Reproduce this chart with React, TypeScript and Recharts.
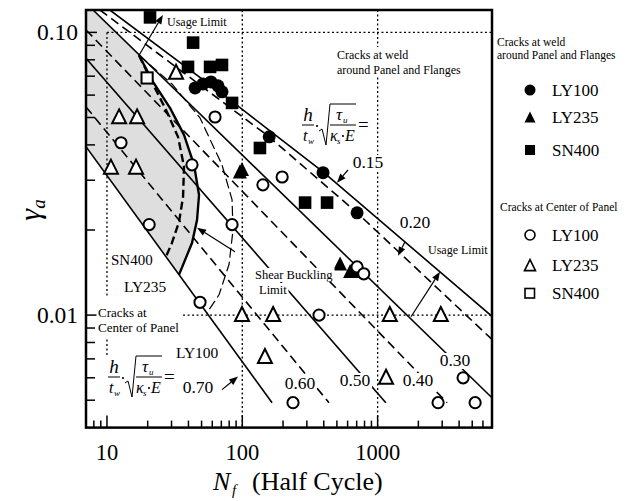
import React from "react";
import { ComposedChart, Scatter, XAxis, YAxis } from "recharts";

type P = [number, number];

// axis ticks
const xTicks = [8, 9, 10, 20, 30, 40, 50, 60, 70, 80, 90, 100, 200, 300, 400, 500, 600, 700, 800, 900, 1000, 2000, 3000, 4000, 5000, 6000];
const xMajor = [10, 100, 1000];
const yTicks = [0.005, 0.006, 0.007, 0.008, 0.009, 0.01, 0.02, 0.03, 0.04, 0.05, 0.06, 0.07, 0.08, 0.09, 0.1];
const yMajor = [0.01, 0.1];

// cracks at weld around panel and flanges (filled)
const weldLY100: P[] = [[44.8, 0.0636], [51.2, 0.0657], [58.7, 0.0668], [66.1, 0.0647], [70.8, 0.0616], [158, 0.0427], [395, 0.0319], [705, 0.023]];
const weldLY235: P[] = [[99.5, 0.0326], [96, 0.0319], [528, 0.0151], [626, 0.0142], [681, 0.0142]];
const weldSN400: P[] = [[20.8, 0.113], [43.3, 0.092], [39.7, 0.0755], [57.8, 0.0755], [70.8, 0.0767], [84, 0.0563], [135, 0.039], [291, 0.025], [423, 0.025]];

// cracks at center of panel (open)
const centerLY100: P[] = [[12.7, 0.0407], [62.9, 0.0502], [42.5, 0.034], [20.5, 0.0209], [48.7, 0.0111], [142, 0.0289], [197, 0.0308], [84, 0.0209], [369, 0.01], [705, 0.0148], [790, 0.014], [237, 0.0049], [2797, 0.0049], [4281, 0.006], [5252, 0.0049]];
const centerLY235: P[] = [[32.4, 0.0719], [12.3, 0.05], [16.7, 0.05], [10.7, 0.0332], [16.4, 0.0332], [99.5, 0.01], [169, 0.01], [147, 0.0071], [1230, 0.01], [2930, 0.01], [1154, 0.006]];
const centerSN400: P[] = [[19.8, 0.069]];

// h/tw*sqrt(tau/(k E)) = const lines, each a short polyline
const fanValues = ["0.15", "0.20", "0.30", "0.40", "0.50", "0.60", "0.70"];
const fan015: P[] = [[10.5, 0.12], [81.1, 0.0577], [395, 0.0321], [7000, 0.0099]];
const fan020: P[] = [[8.88, 0.12], [158, 0.0427], [705, 0.023], [7000, 0.0082]];
const fan030: P[] = [[7.89, 0.12], [7000, 0.0051]];
const fan040: P[] = [[7, 0.102], [3260, 0.0049]];
const fan050: P[] = [[7, 0.081], [1150, 0.0049]];
const fan060: P[] = [[7, 0.0545], [437, 0.0049]];
const fan070: P[] = [[7, 0.0394], [166, 0.0049]];
const fanLines = [fan015, fan020, fan030, fan040, fan050, fan060, fan070];

// shear buckling limit curves
const buckleSN400: P[] = [[17.25, 0.083], [21.1, 0.0679], [27.3, 0.0532], [33.5, 0.0427], [37.1, 0.0335], [36.5, 0.0262], [34.1, 0.0214], [30.2, 0.018], [27.3, 0.0161]];
const buckleLY235: P[] = [[17.25, 0.083], [21.9, 0.0668], [29.2, 0.0541], [37.1, 0.0434], [44, 0.034], [47.9, 0.0266], [46.3, 0.0217], [42.5, 0.018], [34.1, 0.0139]];
const buckleLY100: P[] = [[17.25, 0.083], [30.2, 0.0657], [48.7, 0.0498], [70.8, 0.034], [84, 0.0256], [85.4, 0.02], [79.8, 0.0151], [67.3, 0.0118], [54.9, 0.0102]];

// dotted boundaries
const dottedLines: P[][] = [
  [[10, 0.1], [10, 0.0115]],
  [[10, 0.0082], [10, 0.0071]],
  [[100, 0.12], [100, 0.004]],
  [[1000, 0.12], [1000, 0.004]],
  [[10, 0.1], [7000, 0.1]],
  [[36.5, 0.01], [7000, 0.01]],
];

// annotation arrows [from, to]
const arrows: P[][] = [
  [[17.25, 0.083], [25.9, 0.1152]],
  [[1764, 0.00987], [2890, 0.01423]],
  [[604, 0.0326], [501, 0.0294]],
  [[1593, 0.01817], [1414, 0.01621]],
  [[70.8, 0.00545], [93, 0.00606]],
  [[88.3, 0.01675], [46.3, 0.02036]],
];

const FONT = "Liberation Serif, Times New Roman, serif";
const PLOT = { left: 86, top: 10, right: 492, bottom: 427.6 };

const rows = (pts: P[]) => pts.map(([n, g]) => ({ n, g }));
const pathOf = (pts: { x: number; y: number }[]) =>
  pts.map((p, i) => `${i ? "L" : "M"}${p.x},${p.y}`).join(" ");

const lineShape = (style: Record<string, any>) => (props: any) =>
  <path d={pathOf(props.points)} fill="none" stroke="#000" strokeLinejoin="round" {...style} />;
const areaShape = (props: any) => <path d={pathOf(props.points) + " Z"} fill="#dedede" stroke="none" />;
const arrowShape = (props: any) => {
  const [a, b] = props.points;
  const dx = b.x - a.x;
  const dy = b.y - a.y;
  const len = Math.hypot(dx, dy);
  const ux = dx / len;
  const uy = dy / len;
  const bx = b.x - ux * 9;
  const by = b.y - uy * 9;
  return (
    <g>
      <line x1={a.x} y1={a.y} x2={bx} y2={by} stroke="#000" strokeWidth={1.2} />
      <polygon points={`${b.x},${b.y} ${bx - uy * 3.5},${by + ux * 3.5} ${bx + uy * 3.5},${by - ux * 3.5}`} fill="#000" />
    </g>
  );
};
const noDot = () => <g />;

const tri = (cx: number, cy: number, s: number) =>
  `${cx},${cy - s * 0.58} ${cx - s / 2},${cy + s * 0.42} ${cx + s / 2},${cy + s * 0.42}`;

const FilledCircle = (p: any) => <circle cx={p.cx} cy={p.cy} r={6.5} fill="#000" />;
const FilledSquare = (p: any) => <rect x={p.cx - 6.3} y={p.cy - 6.3} width={12.6} height={12.6} fill="#000" />;
const FilledTri = (p: any) => <polygon points={tri(p.cx, p.cy, 14)} fill="#000" />;
const OpenCircle = (p: any) => <circle cx={p.cx} cy={p.cy} r={5.6} fill="#fff" stroke="#000" strokeWidth={2} />;
const OpenSquare = (p: any) => <rect x={p.cx - 5.6} y={p.cy - 5.6} width={11.2} height={11.2} fill="#fff" stroke="#000" strokeWidth={2} />;
const OpenTri = (p: any) => <polygon points={tri(p.cx, p.cy, 14)} fill="#fff" stroke="#000" strokeWidth={2} strokeLinejoin="miter" />;

const XTick = (props: any) => {
  const x = props.x;
  const v = props.payload.value;
  const major = xMajor.includes(v);
  return (
    <g>
      <line x1={x} x2={x} y1={PLOT.bottom} y2={PLOT.bottom - (major ? 12 : 7)} stroke="#000" strokeWidth={1.5} />
      {major && (
        <text x={x} y={PLOT.bottom + 32} textAnchor="middle" fontFamily={FONT} fontSize={22.5} fill="#000">
          {v}
        </text>
      )}
    </g>
  );
};

const YTick = (props: any) => {
  const y = props.y;
  const v = props.payload.value;
  const major = yMajor.includes(v);
  return (
    <g>
      <line x1={PLOT.left} x2={PLOT.left + (major ? 11 : 9)} y1={y} y2={y} stroke="#000" strokeWidth={1.5} />
      {major && (
        <text x={PLOT.left - 8} y={y + 8} textAnchor="end" fontFamily={FONT} fontSize={23.5} fill="#000">
          {v.toFixed(2)}
        </text>
      )}
    </g>
  );
};

function Formula({ x, y }: { x: number; y: number }) {
  return (
    <g transform={`translate(${x},${y})`} fontFamily={FONT} fontStyle="italic" fill="#000">
      <line x1={0} x2={12} y1={0} y2={0} stroke="#000" strokeWidth={1} />
      <text x={6} y={-4} textAnchor="middle" fontSize={19}>h</text>
      <text x={1} y={16} fontSize={16}>t</text>
      <text x={6} y={19} fontSize={9}>w</text>
      <circle cx={15} cy={1} r={1.1} fill="#000" />
      <path d="M17,6 L20,4 L24,20 L28,-21 L54,-21" fill="none" stroke="#000" strokeWidth={1} />
      <line x1={28} x2={54} y1={0} y2={0} stroke="#000" strokeWidth={1} />
      <text x={34} y={-5} fontSize={17}>τ</text>
      <text x={41} y={-2} fontSize={9}>u</text>
      <text x={28} y={16} fontSize={16}>κ</text>
      <text x={35} y={19} fontSize={9}>s</text>
      <circle cx={41} cy={11} r={1.1} fill="#000" />
      <text x={43} y={16} fontSize={16}>E</text>
      <text x={56} y={6} fontSize={19} fontStyle="normal">=</text>
    </g>
  );
}

function BgText({ x, y, size, children, anchor = "start", pad = 1.5, w, h }: any) {
  const left = anchor === "middle" ? x - w / 2 : x;
  return (
    <g>
      <rect x={left - pad} y={y - h} width={w + pad * 2} height={h + 3} fill="#fff" />
      <text x={x} y={y} fontFamily={FONT} fontSize={size} textAnchor={anchor} fill="#000">
        {children}
      </text>
    </g>
  );
}

export default function App() {
  const grayRegion: P[] = [[7, 0.12], fan030[0], ...buckleLY235, fan070[0]];
  const legendWeld = [
    { name: "LY100", mark: <circle cx={530} cy={90} r={5.5} fill="#000" />, y: 96 },
    { name: "LY235", mark: <polygon points={tri(530, 118, 11)} fill="#000" />, y: 123 },
    { name: "SN400", mark: <rect x={525} y={145} width={10} height={10} fill="#000" />, y: 156 },
  ];
  const legendCenter = [
    { name: "LY100", mark: <circle cx={530} cy={235} r={5} fill="#fff" stroke="#000" strokeWidth={1.6} />, y: 241 },
    { name: "LY235", mark: <polygon points={tri(530, 266, 11)} fill="#fff" stroke="#000" strokeWidth={1.6} />, y: 271 },
    { name: "SN400", mark: <rect x={525} y={288.5} width={9.5} height={9.5} fill="#fff" stroke="#000" strokeWidth={1.6} />, y: 299 },
  ];
  const valueLabels: { t: string; x: number; y: number }[] = [
    { t: fanValues[0], x: 368, y: 168 },
    { t: fanValues[1], x: 415, y: 228 },
    { t: fanValues[2], x: 455, y: 366 },
    { t: fanValues[3], x: 418, y: 386 },
    { t: fanValues[4], x: 355, y: 386 },
    { t: fanValues[5], x: 300, y: 389 },
    { t: fanValues[6], x: 198, y: 393 },
  ];

  return (
    <div style={{ position: "absolute", left: 0, top: 0, width: 639, height: 501, background: "#fff" }}>
      <ComposedChart width={639} height={501} margin={{ top: 10, right: 147, bottom: 0, left: 0 }}>
        <XAxis
          type="number"
          dataKey="n"
          scale="log"
          domain={[7, 7000]}
          allowDataOverflow
          ticks={xTicks}
          interval={0}
          tick={XTick}
          tickLine={false}
          axisLine={false}
          height={73.4}
        />
        <YAxis
          type="number"
          dataKey="g"
          scale="log"
          domain={[0.004, 0.12]}
          allowDataOverflow
          ticks={yTicks}
          interval={0}
          tick={YTick}
          tickLine={false}
          axisLine={false}
          width={86}
        />
        <Scatter data={rows(grayRegion)} line={areaShape} lineType="joint" shape={noDot} isAnimationActive={false} />
        {dottedLines.map((seg, i) => (
          <Scatter key={`d${i}`} data={rows(seg)} line={lineShape({ strokeWidth: 1.3, strokeDasharray: "2 2.5" })} lineType="joint" shape={noDot} isAnimationActive={false} />
        ))}
        {fanLines.map((pts, i) => (
          <Scatter
            key={`f${fanValues[i]}`}
            data={rows(pts)}
            line={lineShape(i % 2 ? { strokeWidth: 1.6, strokeDasharray: "9 5" } : { strokeWidth: 1.6 })}
            lineType="joint"
            shape={noDot}
            isAnimationActive={false}
          />
        ))}
        <Scatter data={rows(buckleSN400)} line={lineShape({ strokeWidth: 2.4, strokeDasharray: "8 4" })} lineType="joint" shape={noDot} isAnimationActive={false} />
        <Scatter data={rows(buckleLY235)} line={lineShape({ strokeWidth: 2.4 })} lineType="joint" shape={noDot} isAnimationActive={false} />
        <Scatter data={rows(buckleLY100)} line={lineShape({ strokeWidth: 1.2, strokeDasharray: "10 4" })} lineType="joint" shape={noDot} isAnimationActive={false} />
        {arrows.map((a, i) => (
          <Scatter key={`a${i}`} data={rows(a)} line={arrowShape} lineType="joint" shape={noDot} isAnimationActive={false} />
        ))}
        <Scatter data={rows(weldSN400)} shape={FilledSquare} isAnimationActive={false} />
        <Scatter data={rows(weldLY100)} shape={FilledCircle} isAnimationActive={false} />
        <Scatter data={rows(weldLY235)} shape={FilledTri} isAnimationActive={false} />
        <Scatter data={rows(centerLY100)} shape={OpenCircle} isAnimationActive={false} />
        <Scatter data={rows(centerLY235)} shape={OpenTri} isAnimationActive={false} />
        <Scatter data={rows(centerSN400)} shape={OpenSquare} isAnimationActive={false} />
      </ComposedChart>

      <svg width={639} height={501} style={{ position: "absolute", left: 0, top: 0, pointerEvents: "none" }}>
        <rect x={PLOT.left} y={PLOT.top} width={PLOT.right - PLOT.left} height={PLOT.bottom - PLOT.top} fill="none" stroke="#000" strokeWidth={2.5} />

        <text x={167} y={26} fontFamily={FONT} fontSize={12}>Usage Limit</text>
        <text x={428} y={254} fontFamily={FONT} fontSize={12}>Usage Limit</text>
        <BgText x={337} y={59} size={12} w={128} h={12}>Cracks at weld</BgText>
        <BgText x={337} y={74} size={12} w={128} h={12}>around Panel and Flanges</BgText>
        <BgText x={255} y={279} size={12.5} w={78} h={11}>Shear Buckling</BgText>
        <BgText x={259} y={294} size={12.5} w={28} h={11}>Limit</BgText>
        <text x={111} y={265} fontFamily={FONT} fontSize={15}>SN400</text>
        <text x={124} y={292} fontFamily={FONT} fontSize={15.5}>LY235</text>
        <text x={176} y={358} fontFamily={FONT} fontSize={15.5}>LY100</text>
        <BgText x={98} y={317} size={13} w={52} h={11}>Cracks at</BgText>
        <BgText x={98} y={332} size={13} w={82} h={11}>Center of Panel</BgText>

        {valueLabels.map((l) => (
          <BgText key={l.t} x={l.x} y={l.y} size={17.5} anchor="middle" w={31} h={13}>
            {l.t}
          </BgText>
        ))}

        <Formula x={302} y={125} />
        <Formula x={108} y={377} />

        <text x={497} y={46} fontFamily={FONT} fontSize={11.5}>Cracks at weld</text>
        <text x={497} y={59} fontFamily={FONT} fontSize={11.5}>around Panel and Flanges</text>
        {legendWeld.map((l) => (
          <g key={`w${l.name}`}>
            {l.mark}
            <text x={552} y={l.y} fontFamily={FONT} fontSize={17}>{l.name}</text>
          </g>
        ))}
        <text x={500} y={211} fontFamily={FONT} fontSize={11.5}>Cracks at Center of Panel</text>
        {legendCenter.map((l) => (
          <g key={`c${l.name}`}>
            {l.mark}
            <text x={552} y={l.y} fontFamily={FONT} fontSize={17}>{l.name}</text>
          </g>
        ))}

        <text x={40} y={210} transform="rotate(-90, 40, 210)" textAnchor="middle" fontFamily={FONT} fontSize={30} fontStyle="italic">
          γ<tspan fontSize={19} dy={5}>a</tspan>
        </text>
        <text x={213} y={490} fontFamily={FONT} fontSize={26} fontStyle="italic">N</text>
        <text x={232} y={495} fontFamily={FONT} fontSize={15} fontStyle="italic">f</text>
        <text x={252} y={490} fontFamily={FONT} fontSize={26}>(Half Cycle)</text>
      </svg>
    </div>
  );
}
